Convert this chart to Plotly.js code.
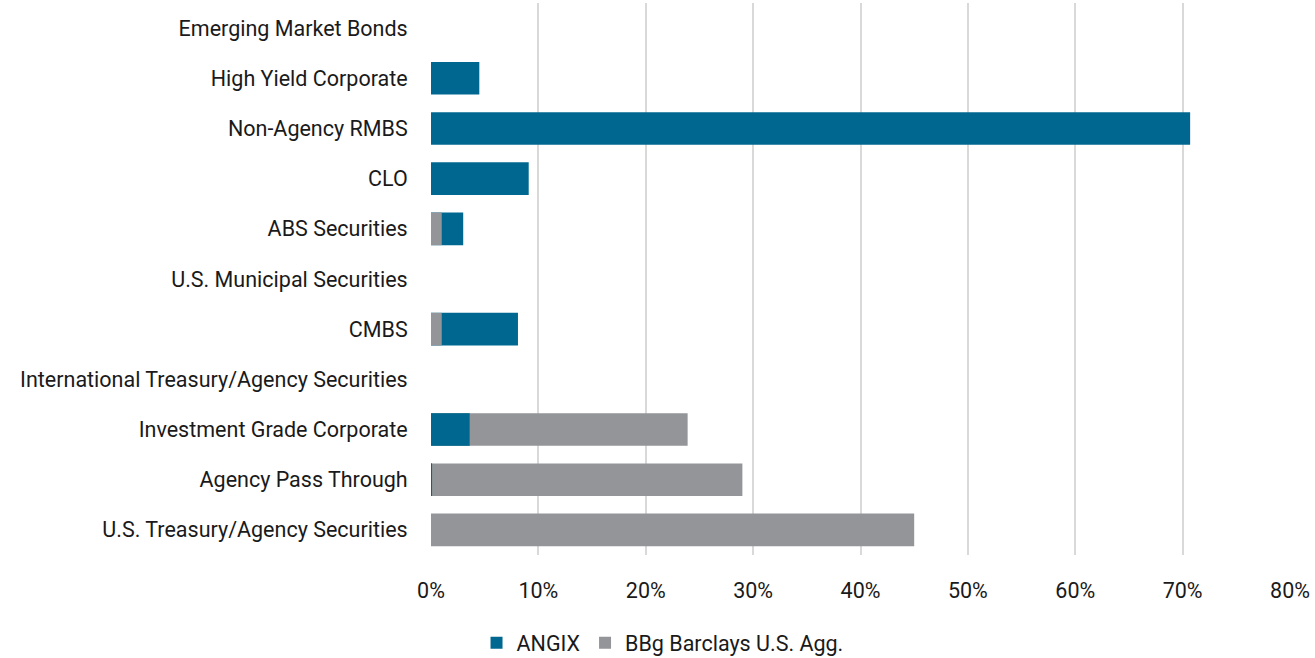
<!DOCTYPE html>
<html>
<head>
<meta charset="utf-8">
<script src="https://cdn.plot.ly/plotly-3.0.1.min.js"></script>
<style>html,body{margin:0;padding:0;background:#fff;}#chart{width:1315px;height:658px;}</style>
</head>
<body>
<div id="chart"></div>
<script>
const categories = [
  "U.S. Treasury/Agency Securities",
  "Agency Pass Through",
  "Investment Grade Corporate",
  "International Treasury/Agency Securities",
  "CMBS",
  "U.S. Municipal Securities",
  "ABS Securities",
  "CLO",
  "Non-Agency RMBS",
  "High Yield Corporate",
  "Emerging Market Bonds"
];
const angix = [0, 0.1, 3.6, 0, 8.1, 0, 3.0, 9.1, 70.7, 4.5, 0];
const bbgAgg = [45.0, 29.0, 23.9, 0, 1.0, 0, 1.0, 0, 0, 0, 0];
const xTickVals = [0, 10, 20, 30, 40, 50, 60, 70, 80];
const xTickText = ["0%", "10%", "20%", "30%", "40%", "50%", "60%", "70%", "80%"];

const teal = "#006890";
const gray = "#939598";
const fontFam = "Roboto, 'Liberation Sans', sans-serif";
const fontSize = 21.5;

// Smaller value drawn on top so both remain visible
const angixOnTop = angix.map((v, i) => (v < bbgAgg[i] ? v : null));

const traces = [
  {type: "bar", orientation: "h", name: "ANGIX", y: categories, x: angix,
   marker: {color: teal}, hoverinfo: "x+name"},
  {type: "bar", orientation: "h", name: "BBg Barclays U.S. Agg.", y: categories, x: bbgAgg,
   marker: {color: gray}, hoverinfo: "x+name"},
  {type: "bar", orientation: "h", name: "ANGIX", y: categories, x: angixOnTop,
   marker: {color: teal}, showlegend: false, hoverinfo: "x+name"}
];

const layout = {
  width: 1315, height: 658,
  margin: {l: 431, r: 25, t: 3, b: 103, autoexpand: false},
  paper_bgcolor: "#fff", plot_bgcolor: "#fff",
  barmode: "overlay",
  bargap: 0.35,
  font: {family: fontFam, size: fontSize, color: "#1a1a1a"},
  xaxis: {
    range: [0, 80], tickvals: xTickVals, ticktext: xTickText,
    automargin: false,
    showgrid: true, gridcolor: "#d9d9d9", gridwidth: 2,
    zeroline: false, showline: false,
    ticks: "outside", ticklen: 16, tickcolor: "rgba(0,0,0,0)",
    tickfont: {family: fontFam, size: fontSize, color: "#1a1a1a"},
    fixedrange: true
  },
  yaxis: {
    type: "category", automargin: false,
    showgrid: false, zeroline: false, showline: false,
    ticks: "outside", ticklen: 18, tickcolor: "rgba(0,0,0,0)",
    tickfont: {family: fontFam, size: fontSize, color: "#1a1a1a"},
    fixedrange: true
  },
  legend: {
    orientation: "h", x: 0.053, xanchor: "left", y: -0.159, yanchor: "middle",
    font: {family: fontFam, size: fontSize, color: "#1a1a1a"},
    itemwidth: 30, tracegroupgap: 0, traceorder: "normal"
  },
  showlegend: true
};

Plotly.newPlot("chart", traces, layout, {displayModeBar: false, staticPlot: true});
</script>
</body>
</html>
